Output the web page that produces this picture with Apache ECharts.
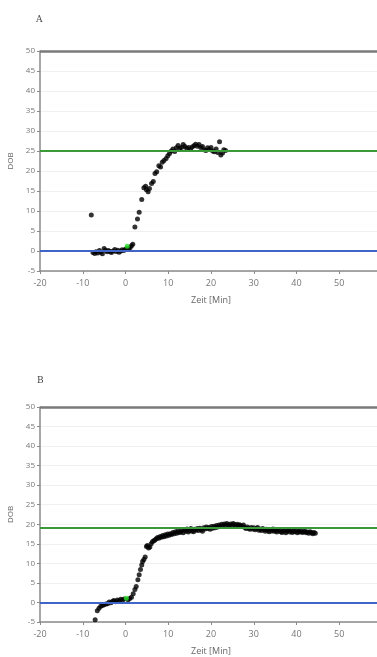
<!DOCTYPE html>
<html>
<head>
<meta charset="utf-8">
<script src="https://cdn.jsdelivr.net/npm/echarts@6/dist/echarts.min.js"></script>
<style>
  html, body { margin: 0; padding: 0; background: #fff; overflow: hidden; }
  #chart { width: 377px; height: 657px; }
</style>
</head>
<body>
<div id="chart"></div>
<script>
// panel A: time [min] and DOB values
const aTime = [-8.0, -7.6, -7.2, -6.9, -6.5, -6.1, -5.8, -5.4, -5.0, -4.7,
  -4.3, -4.0, -3.6, -3.3, -2.9, -2.5, -2.2, -1.8, -1.5, -1.1,
  -0.8, -0.4, -0.1, 0.3, 0.8, 1.1, 1.4, 1.7,
  2.2, 2.8, 3.2, 3.8, 4.3, 4.7, 4.9, 5.3, 5.6, 6.1,
  6.5, 6.9, 7.3, 7.8, 8.2, 8.6, 9.0, 9.5, 9.9, 10.3,
  10.7, 11.1, 11.5, 11.9, 12.3, 12.7, 13.1, 13.5, 13.9, 14.3,
  14.8, 15.2, 15.6, 16.0, 16.4, 16.8, 17.2, 17.6, 18.0, 18.4,
  18.8, 19.2, 19.6, 20.0, 20.4, 20.8, 21.2, 21.6, 22.0, 22.3,
  22.7, 23.0, 23.4]
const aDob = [9.0, -0.4, -0.6, -0.2, -0.5, 0.1, -0.3, -0.7, 0.6, 0.2,
  -0.2, 0.1, -0.1, -0.4, 0.0, 0.4, -0.1, 0.2, -0.3, 0.0,
  0.3, 0.1, 0.4, 0.6, 0.5, 0.9, 1.3, 1.7,
  6.0, 8.0, 9.7, 12.9, 15.8, 16.2, 15.3, 14.8, 15.6, 16.9,
  17.4, 19.4, 19.8, 21.3, 21.0, 22.2, 22.6, 23.1, 23.8, 24.4,
  25.0, 25.5, 24.9, 25.8, 26.4, 25.6, 25.9, 26.6, 26.1, 25.7,
  25.9, 25.4, 26.0, 26.3, 26.7, 26.2, 26.6, 25.9, 26.1, 25.3,
  25.1, 25.8, 25.4, 25.9, 25.0, 24.8, 25.5, 24.6, 27.3, 24.0,
  24.5, 25.3, 25.1]
const aMarker = [0.4, 1.2]
const aTarget = 25

// panel B
const bTime = [-7.1, -6.6, -6.2, -5.8, -5.4, -5.0, -4.6, -4.2, -3.8, -3.4,
  -3.0, -2.7, -2.3, -1.9, -1.5, -1.1, -0.7, -0.3, 0.6, 1.0, 1.4,
  1.8, 2.2, 2.5, 2.9, 3.2, 3.5, 3.8, 4.0, 4.3, 4.6,
  4.9, 5.1, 5.4, 5.7, 6.0, 6.3, 6.6, 6.9, 7.2, 7.5,
  7.8, 8.1, 8.4, 8.7, 9.0, 9.3, 9.6, 9.9, 10.2, 10.5,
  10.8, 11.1, 11.4, 11.7, 12.0, 12.3, 12.6, 12.9, 13.2, 13.5,
  13.8, 14.1, 14.4, 14.7, 15.0, 15.3, 15.6, 15.9, 16.2, 16.5,
  16.8, 17.1, 17.4, 17.7, 18.0, 18.3, 18.6, 18.9, 19.2, 19.5,
  19.8, 20.1, 20.4, 20.7, 21.0, 21.3, 21.6, 21.9, 22.2, 22.5,
  22.8, 23.1, 23.4, 23.7, 24.0, 24.3, 24.6, 24.9, 25.2, 25.5,
  25.8, 26.1, 26.4, 26.7, 27.0, 27.3, 27.6, 27.9, 28.2, 28.5,
  28.8, 29.1, 29.4, 29.7, 30.0, 30.3, 30.6, 30.9, 31.2, 31.5,
  31.8, 32.1, 32.4, 32.7, 33.0, 33.3, 33.6, 33.9, 34.2, 34.5,
  34.8, 35.1, 35.4, 35.7, 36.0, 36.3, 36.6, 36.9, 37.2, 37.5,
  37.8, 38.1, 38.4, 38.7, 39.0, 39.3, 39.6, 39.9, 40.2, 40.5,
  40.8, 41.1, 41.4, 41.7, 42.0, 42.3, 42.6, 42.9, 43.2, 43.5,
  43.8, 44.1, 44.4]
const bDob = [-4.4, -2.1, -1.5, -1.0, -0.8, -0.6, -0.4, -0.3, 0.1, -0.1,
  0.3, 0.5, 0.2, 0.6, 0.4, 0.8, 0.6, 0.9, 0.7, 1.0, 1.3,
  2.2, 3.3, 4.1, 5.8, 7.1, 8.4, 9.6, 10.5, 11.0, 11.6,
  14.3, 14.6, 13.9, 14.2, 15.0, 15.5, 15.8, 16.0, 16.3, 16.6,
  16.4, 16.9, 16.7, 17.1, 16.8, 17.3, 17.0, 17.5, 17.2, 17.6,
  17.4, 17.9, 17.6, 18.1, 17.7, 18.3, 17.9, 18.0, 18.5, 17.8,
  18.6, 18.2, 18.8, 18.0, 18.4, 18.9, 18.3, 18.1, 18.7, 18.5,
  18.9, 18.4, 19.0, 18.6, 18.2, 19.1, 18.8, 19.3, 18.9, 19.2,
  18.7, 19.4, 19.0, 19.5, 19.1, 19.7, 19.3, 19.8, 19.4, 20.0,
  19.6, 20.1, 19.7, 20.2, 19.9, 19.6, 20.1, 19.8, 20.2, 19.9,
  19.5, 20.0, 19.7, 19.9, 19.6, 19.4, 19.8, 19.2, 18.9, 19.3,
  19.0, 18.7, 19.2, 18.8, 19.1, 18.6, 18.9, 19.2, 18.5, 18.8,
  18.4, 18.9, 18.6, 18.2, 18.7, 18.5, 18.1, 18.6, 18.3, 18.8,
  18.2, 18.5, 18.0, 18.4, 18.6, 18.1, 17.9, 18.3, 18.5, 17.8,
  18.2, 18.6, 18.0, 18.4, 17.9, 18.3, 18.1, 18.5, 17.8, 18.2,
  18.0, 18.3, 17.9, 18.1, 18.2, 17.8, 18.0, 17.7, 18.1, 17.9,
  17.6, 17.9, 17.7]
const bMarker = [0.2, 1.1]
const bTarget = 19.2

const axisGray = '#8a8a8a'

function zip(xs, ys) {
  return xs.map((x, i) => [x, ys[i]])
}

function xAxisFor(gridIndex) {
  return {
    gridIndex: gridIndex,
    type: 'value',
    min: -20,
    max: 60,
    interval: 10,
    name: 'Zeit [Min]',
    nameLocation: 'middle',
    nameGap: 25,
    nameTextStyle: { color: '#666', fontSize: 9, fontFamily: 'Open Sans' },
    axisLine: { onZero: false, lineStyle: { color: axisGray, width: 1.5 } },
    axisTick: { length: 3, lineStyle: { color: axisGray } },
    axisLabel: { color: '#777', fontSize: 9, fontFamily: 'Open Sans', margin: 8, showMaxLabel: true, hideOverlap: false },
    splitLine: { show: false }
  }
}

function yAxisFor(gridIndex) {
  return {
    gridIndex: gridIndex,
    type: 'value',
    min: -5,
    max: 50,
    interval: 5,
    name: 'DOB',
    nameLocation: 'middle',
    nameGap: 25,
    nameTextStyle: { color: '#666', fontSize: 8, fontFamily: 'Open Sans' },
    axisLine: { show: true, onZero: false, lineStyle: { color: axisGray, width: 1.5 } },
    axisTick: { show: true, length: 3, lineStyle: { color: axisGray } },
    axisLabel: { color: '#777', fontSize: 8, fontFamily: 'Open Sans', margin: 5 },
    splitLine: { lineStyle: { color: '#f0f0f0', width: 1 } }
  }
}

function refLines(target) {
  return {
    silent: true,
    symbol: 'none',
    label: { show: false },
    data: [
      { yAxis: 50, lineStyle: { color: '#7a7a7a', width: 2.5, type: 'solid' } },
      { yAxis: target, lineStyle: { color: '#3a9a3a', width: 2, type: 'solid' } },
      { yAxis: 0, lineStyle: { color: '#4064c8', width: 2, type: 'solid' } }
    ]
  }
}

const chartObj = echarts.init(document.getElementById('chart'), null, { renderer: 'canvas' })

chartObj.setOption({
  animation: false,
  title: [
    { text: 'A', left: 31, top: 10, textStyle: { fontFamily: 'DejaVu Serif', fontSize: 9, fontWeight: 'normal', color: '#444' } },
    { text: 'B', left: 32, top: 371, textStyle: { fontFamily: 'DejaVu Serif', fontSize: 9, fontWeight: 'normal', color: '#444' } }
  ],
  grid: [
    { left: 40, top: 51, width: 342, height: 220, outerBoundsMode: 'none', containLabel: false },
    { left: 40, top: 407, width: 342, height: 215, outerBoundsMode: 'none', containLabel: false }
  ],
  xAxis: [xAxisFor(0), xAxisFor(1)],
  yAxis: [yAxisFor(0), yAxisFor(1)],
  series: [
    {
      type: 'scatter',
      xAxisIndex: 0,
      yAxisIndex: 0,
      symbolSize: 5,
      itemStyle: { color: '#000' },
      data: zip(aTime, aDob),
      markLine: refLines(aTarget),
      z: 3
    },
    {
      type: 'scatter',
      xAxisIndex: 0,
      yAxisIndex: 0,
      symbolSize: 5,
      itemStyle: { color: '#22e022' },
      data: [aMarker],
      z: 5
    },
    {
      type: 'scatter',
      xAxisIndex: 1,
      yAxisIndex: 1,
      symbolSize: 5,
      itemStyle: { color: '#000' },
      data: zip(bTime, bDob),
      markLine: refLines(bTarget),
      z: 3
    },
    {
      type: 'scatter',
      xAxisIndex: 1,
      yAxisIndex: 1,
      symbolSize: 5,
      itemStyle: { color: '#22e022' },
      data: [bMarker],
      z: 5
    }
  ]
})
</script>
</body>
</html>
